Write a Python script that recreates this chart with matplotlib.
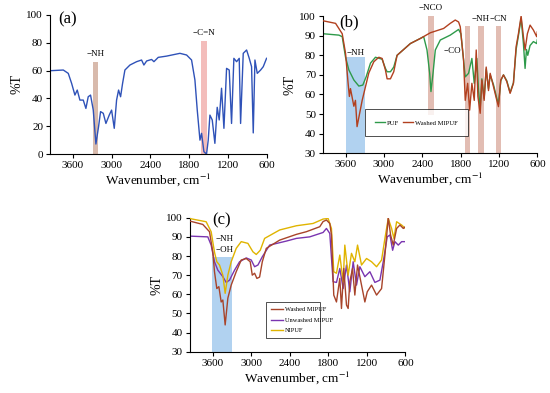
import matplotlib
matplotlib.use("Agg")
import matplotlib.pyplot as plt

plt.rcParams['font.family'] = ['Liberation Serif', 'DejaVu Serif']
plt.rcParams['mathtext.fontset'] = 'stix'

# ---- panel (a) spectrum ----
a_wn = [3957, 3750, 3673, 3621, 3570, 3534, 3493, 3441, 3400, 3364, 3328, 3286,
        3245, 3204, 3173, 3131, 3090, 3038, 3002, 2961, 2925, 2894, 2863, 2832,
        2796, 2718, 2615, 2538, 2502, 2460, 2383, 2347, 2280, 2151, 1944, 1841,
        1764, 1712, 1676, 1634, 1609, 1573, 1532, 1506, 1480, 1444, 1403, 1367,
        1336, 1300, 1263, 1222, 1181, 1145, 1109, 1067, 1026, 1005, 964, 912,
        871, 835, 809, 783, 747, 695, 654, 603]
a_T = [59.9, 60.4, 58.0, 50.8, 42.4, 46.0, 38.8, 38.8, 32.8, 41.2, 42.4, 31.6,
       7.2, 19.7, 30.5, 29.3, 22.0, 28.1, 31.6, 18.5, 38.8, 46.0, 41.2, 50.8,
       60.4, 64.0, 66.4, 67.6, 64.0, 66.9, 68.0, 66.4, 69.5, 70.4, 72.4, 71.2,
       67.6, 53.2, 31.6, 10.0, 14.9, 1.7, 0.0, 10.0, 28.0, 24.5, 7.7, 33.6,
       24.5, 47.3, 18.5, 61.6, 60.4, 22.0, 68.8, 66.4, 68.8, 22.0, 72.4, 74.8,
       68.8, 62.8, 15.2, 67.6, 58.0, 60.4, 62.8, 68.8]

# ---- panel (b) spectra ----
b_wash_wn = [3950, 3756, 3652, 3600, 3560, 3540, 3523, 3470, 3445, 3420, 3340,
             3288, 3236, 3158, 3080, 3028, 2976, 2950, 2898, 2846, 2794, 2586,
             2430, 2274, 2066, 1962, 1884, 1832, 1806, 1754, 1728, 1690, 1659,
             1624, 1587, 1556, 1530, 1494, 1468, 1432, 1400, 1364, 1338, 1286,
             1234, 1208, 1172, 1130, 1078, 1026, 974, 932, 896, 854, 818, 792,
             756, 714, 662, 610, 600]
b_wash_T = [97.6, 96.3, 91.0, 81.0, 65.7, 59.0, 63.0, 54.0, 57.0, 43.6, 57.0,
            64.0, 71.0, 76.7, 79.0, 78.4, 72.5, 68.0, 68.0, 71.6, 80.0, 86.0,
            88.6, 91.5, 93.7, 96.3, 98.0, 97.0, 94.6, 77.6, 57.0, 65.7, 52.0,
            65.7, 57.0, 82.7, 59.0, 50.4, 67.4, 57.0, 74.0, 62.0, 70.8, 64.0,
            57.0, 53.8, 67.4, 70.0, 66.6, 60.6, 65.7, 84.4, 91.0, 100.0, 89.5, 82.7,
            91.0, 95.4, 92.9, 89.5, 92.0]
b_puf_wn = [3950, 3704, 3652, 3600, 3548, 3470, 3392, 3330, 3278, 3210, 3132,
            3028, 2976, 2950, 2898, 2846, 2794, 2586, 2430, 2378, 2326, 2284,
            2264, 2232, 2196, 2118, 1962, 1832, 1796, 1754, 1728, 1676, 1624,
            1587, 1546, 1520, 1494, 1468, 1432, 1400, 1364, 1338, 1286, 1234,
            1208, 1172, 1130, 1078, 1026, 974, 932, 896, 854, 818, 792, 770,
            750, 714, 662, 610, 600]
b_puf_T = [91.0, 90.3, 89.5, 79.0, 72.5, 67.4, 64.3, 64.8, 69.0, 76.0, 79.0,
           78.0, 73.3, 71.6, 71.6, 74.0, 80.0, 86.0, 88.6, 89.5, 82.7, 70.8,
           61.5, 70.8, 82.7, 87.8, 90.3, 93.2, 91.0, 77.6, 69.0, 70.8, 78.4,
           65.7, 78.4, 62.0, 53.0, 68.0, 58.0, 73.0, 63.0, 70.0, 65.0, 58.0,
           55.0, 67.0, 70.0, 67.0, 61.0, 66.0, 83.0, 90.0, 99.0, 86.0, 73.3, 83.0,
           80.0, 85.0, 87.0, 86.0, 88.0]

# ---- panel (c) spectra ----
c_wash_wn = [3960, 3752, 3648, 3596, 3570, 3534, 3502, 3466, 3440, 3404, 3362,
             3310, 3232, 3154, 3076, 3014, 2982, 2946, 2910, 2868, 2826, 2764,
             2556, 2296, 2140, 1932, 1880, 1828, 1776, 1750, 1714, 1672, 1620,
             1594, 1558, 1516, 1490, 1464, 1422, 1386, 1344, 1282, 1230, 1193,
             1126, 1048, 970, 918, 866, 830, 788, 736, 684, 632, 600]
c_wash_T = [98.3, 96.5, 92.7, 82.0, 71.8, 63.0, 64.0, 56.0, 57.0, 44.0, 58.0,
            64.8, 71.8, 77.9, 78.7, 77.0, 70.0, 71.0, 68.3, 69.0, 77.0, 84.0,
            88.3, 91.3, 92.7, 95.3, 98.0, 98.8, 97.0, 91.0, 59.6, 56.0, 68.3,
            52.6, 73.5, 54.4, 52.6, 66.6, 73.5, 59.6, 75.3, 64.8, 56.0, 61.3,
            64.8, 59.6, 63.0, 80.5, 100.0, 91.0, 85.7, 94.4, 96.2, 94.4, 95.3]
c_unw_wn = [3960, 3674, 3622, 3570, 3518, 3440, 3388, 3336, 3258, 3180, 3076,
            2998, 2946, 2894, 2826, 2712, 2452, 2296, 2088, 1880, 1828, 1776,
            1724, 1672, 1620, 1568, 1516, 1464, 1412, 1360, 1308, 1230, 1152,
            1074, 996, 944, 882, 840, 798, 762, 710, 658, 600]
c_unw_T = [90.4, 90.0, 85.7, 77.0, 72.6, 69.2, 66.2, 67.4, 72.6, 77.0, 79.0,
           77.9, 74.4, 75.3, 79.6, 85.7, 87.8, 89.2, 90.0, 92.3, 94.4, 91.8,
           66.6, 66.2, 73.5, 63.0, 75.3, 61.3, 77.0, 64.8, 74.4, 69.2, 71.8,
           66.2, 67.4, 77.0, 90.0, 91.0, 83.0, 87.5, 85.7, 87.5, 87.5]
c_nip_wn = [3960, 3700, 3622, 3570, 3534, 3492, 3440, 3404, 3362, 3310, 3232,
            3154, 3050, 2972, 2920, 2858, 2790, 2556, 2296, 2036, 1880, 1802,
            1750, 1714, 1672, 1620, 1568, 1542, 1490, 1438, 1386, 1344, 1282,
            1204, 1126, 1048, 970, 918, 866, 814, 778, 736, 658, 600]
c_nip_T = [99.6, 97.9, 92.7, 82.0, 77.0, 75.3, 70.0, 60.5, 70.0, 77.0, 84.0,
           87.5, 86.6, 82.2, 80.8, 83.0, 89.2, 93.6, 95.8, 97.0, 99.3, 99.6,
           94.4, 71.8, 71.0, 80.5, 66.6, 85.7, 70.0, 81.4, 77.0, 85.7, 75.3,
           78.7, 77.0, 74.4, 77.9, 89.2, 99.6, 94.4, 89.2, 97.9, 96.2, 94.4]

# shaded bands: (high wn, low wn, bottom, top)
a_bands = [(3295, 3215, 0, 66, '#d2ae9e'), (1615, 1527, 0, 81, '#f2b2b0')]
b_bands = [(3600, 3288, 30, 79, '#a4cbee'), (2316, 2212, 49.6, 100, '#ddb2a6'),
           (1738, 1650, 30, 95, '#ddb2a6'), (1530, 1442, 30, 95, '#ddb2a6'),
           (1250, 1167, 30, 95, '#ddb2a6')]
c_bands = [(3612, 3300, 30, 79.6, '#a4cbee')]

xticks = [3600, 3000, 2400, 1800, 1200, 600]

fig = plt.figure(figsize=(5.5, 3.93), dpi=100)
ax_a = fig.add_axes([0.091, 0.608, 0.394, 0.354])
ax_b = fig.add_axes([0.587, 0.610, 0.390, 0.349])
ax_c = fig.add_axes([0.345, 0.105, 0.392, 0.341])


def style(ax, ylo, yhi, ystep):
    ax.set_xlim(3955, 600)
    ax.set_ylim(ylo, yhi)
    ax.set_xticks(xticks)
    ax.set_yticks(range(ylo, yhi + 1, ystep))
    for s in ['top', 'right']:
        ax.spines[s].set_visible(False)
    ax.spines['left'].set_linewidth(0.8)
    ax.spines['bottom'].set_linewidth(0.8)
    ax.tick_params(direction='out', length=3, width=0.8, labelsize=8, pad=2)
    ax.set_xlabel(r'Wavenumber, cm$^{-1}$', fontsize=9.5, labelpad=1)
    ax.set_ylabel('%T', fontsize=10, labelpad=2)


def bands(ax, blist):
    for hi_w, lo_w, b0, b1, col in blist:
        ax.fill_between([hi_w, lo_w], [b0, b0], [b1, b1], color=col,
                        alpha=0.85, lw=0, zorder=1, clip_on=False)


# (a)
style(ax_a, 0, 100, 20)
bands(ax_a, a_bands)
ax_a.plot(a_wn, a_T, color='#2f52b8', lw=1.0, zorder=2)
ax_a.text(3830, 97, '(a)', fontsize=12, va='center')
ax_a.text(3255, 69, '\u2212NH', fontsize=6.5, ha='center', va='bottom')
ax_a.text(1571, 84, '\u2212C=N', fontsize=6.5, ha='center', va='bottom')

# (b)
style(ax_b, 30, 100, 10)
bands(ax_b, b_bands)
ax_b.plot(b_puf_wn, b_puf_T, color='#2e9a4a', lw=1.0, zorder=2, label='PUF')
ax_b.plot(b_wash_wn, b_wash_T, color='#b2401f', lw=1.0, zorder=3,
          label='Washed MIPUF')
ax_b.text(3700, 97, '(b)', fontsize=12, va='center')
ax_b.text(3590, 81, '\u2212NH', fontsize=6.5, va='center')
ax_b.text(2264, 102, '\u2212NCO', fontsize=6.5, ha='center', va='bottom')
ax_b.text(2070, 82, '\u2212CO', fontsize=6.5, va='center')
ax_b.text(1486, 96.5, '\u2212NH', fontsize=6.5, ha='center', va='bottom')
ax_b.text(1208, 96.5, '\u2212CN', fontsize=6.5, ha='center', va='bottom')
lg = ax_b.legend(loc='center', bbox_to_anchor=(0.436, 0.221),
                 ncol=2, fontsize=4.8, frameon=True, fancybox=False,
                 borderpad=1.6, handlelength=1.5, handletextpad=0.3,
                 columnspacing=0.5, borderaxespad=0)
lg.get_frame().set_edgecolor('black')
lg.get_frame().set_linewidth(0.6)

# (c)
style(ax_c, 30, 100, 10)
bands(ax_c, c_bands)
ax_c.plot(c_unw_wn, c_unw_T, color='#7a35b0', lw=1.0, zorder=2,
          label='Unwashed MIPUF')
ax_c.plot(c_nip_wn, c_nip_T, color='#e0b400', lw=1.0, zorder=3, label='NIPUF')
ax_c.plot(c_wash_wn, c_wash_T, color='#a8442a', lw=1.0, zorder=4,
          label='Washed MIPUF')
ax_c.text(3600, 98.5, '(c)', fontsize=12, va='center')
ax_c.text(3560, 89, '\u2212NH', fontsize=6.5, va='center')
ax_c.text(3560, 83, '\u2212OH', fontsize=6.5, va='center')
h, l = ax_c.get_legend_handles_labels()
order = [2, 0, 1]
lg = ax_c.legend([h[i] for i in order], [l[i] for i in order],
                 loc='lower left', bbox_to_anchor=(0.340, 0.075, 0.278, 0.249),
                 mode='expand', fontsize=4.6, frameon=True, fancybox=False,
                 borderpad=0.8, labelspacing=0.8, handlelength=1.8,
                 handletextpad=0.3)
lg.get_frame().set_edgecolor('black')
lg.get_frame().set_linewidth(0.6)

fig.savefig('out.png', dpi=100)
